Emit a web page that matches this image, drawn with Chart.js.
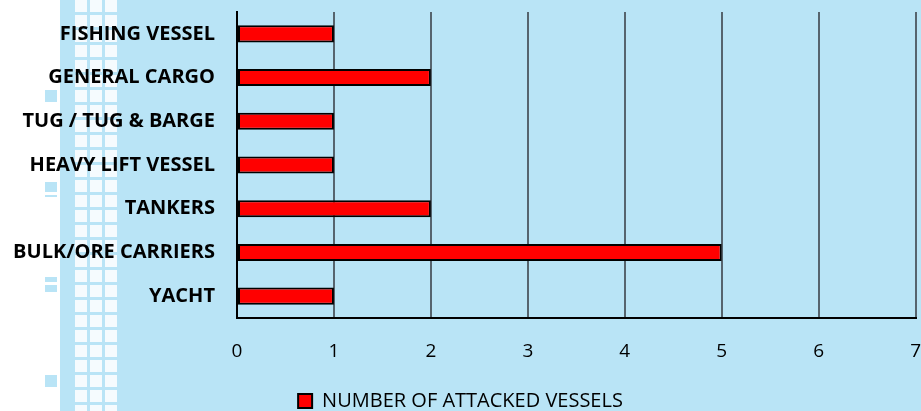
<!DOCTYPE html>
<html>
<head>
<meta charset="utf-8">
<script src="https://cdn.jsdelivr.net/npm/chart.js@4.4.0/dist/chart.umd.min.js"></script>
<style>
  html, body { margin: 0; padding: 0; overflow: hidden; }
  #wrap {
    position: relative;
    width: 921px; height: 411px;
    background: linear-gradient(to right, #ffffff 0 60px, #b9e4f6 60px 921px);
  }
  /* decorative pixel squares on the left */
  #squares {
    position: absolute; left: 72px; top: -3px; width: 48px; height: 420px;
    background: conic-gradient(from 90deg at 3px 3px, rgba(255,255,255,0.85) 25%, rgba(255,255,255,0) 0) 0 0 / 15px 15px;
  }
  #squares2 {
    position: absolute; left: 42px; top: 87px; width: 18px; height: 300px;
    background: conic-gradient(from 90deg at 3px 3px, #b9e4f6 25%, rgba(185,228,246,0) 0) 0 0 / 15px 15px;
    -webkit-mask: linear-gradient(#000 0 15px, transparent 15px 95px) 0 0 / 18px 95px;
    mask: linear-gradient(#000 0 15px, transparent 15px 95px) 0 0 / 18px 95px;
  }
  canvas { position: absolute; left: 0; top: 0; }
</style>
</head>
<body>
<div id="wrap">
  <div id="squares"></div>
  <div id="squares2"></div>
  <canvas id="chart" width="921" height="411"></canvas>
</div>
<script>
const categories = ['FISHING VESSEL', 'GENERAL CARGO', 'TUG / TUG & BARGE', 'HEAVY LIFT VESSEL', 'TANKERS', 'BULK/ORE CARRIERS', 'YACHT'];
const attacked = [1, 2, 1, 1, 2, 5, 1];
const seriesName = 'NUMBER OF ATTACKED VESSELS';
const xTicks = [0, 1, 2, 3, 4, 5, 6, 7];

const ctx = document.getElementById('chart').getContext('2d');
const chart = new Chart(ctx, {
    type: 'bar',
    data: {
        labels: categories,
        datasets: [{
            label: seriesName,
            data: attacked,
            backgroundColor: '#ff0000',
            borderColor: '#000000',
            borderWidth: 2,
            borderSkipped: false,
            barPercentage: 0.39,
            categoryPercentage: 1
        }]
    },
    options: {
        indexAxis: 'y',
        responsive: false,
        animation: false,
        layout: { padding: { top: 8, bottom: -10, left: 0, right: 0 } },
        scales: {
            x: {
                min: 0,
                max: 7,
                afterBuildTicks: (scale) => { scale.ticks = xTicks.map(v => ({ value: v })); },
                afterFit: (scale) => { scale.height = 73; },
                grid: { color: '#56646e', lineWidth: 2, drawTicks: true, tickLength: 22, tickColor: 'rgba(0,0,0,0)' },
                border: { color: '#000000', width: 2 },
                ticks: { color: '#000000', padding: 0, font: { family: 'Open Sans', size: 19 } }
            },
            y: {
                afterFit: (scale) => { scale.width = 237; },
                grid: { color: 'rgba(0,0,0,0)', drawTicks: true, tickLength: 22, tickColor: 'rgba(0,0,0,0)' },
                border: { color: '#000000', width: 2 },
                ticks: { color: '#000000', padding: 0, font: { family: 'Open Sans', size: 20, weight: 'bold' } }
            }
        },
        plugins: {
            legend: {
                position: 'bottom',
                labels: {
                    color: '#000000',
                    boxWidth: 14,
                    boxHeight: 14,
                    padding: 0,
                    font: { family: 'Open Sans', size: 20 }
                }
            },
            tooltip: { enabled: false }
        }
    }
});
</script>
</body>
</html>
